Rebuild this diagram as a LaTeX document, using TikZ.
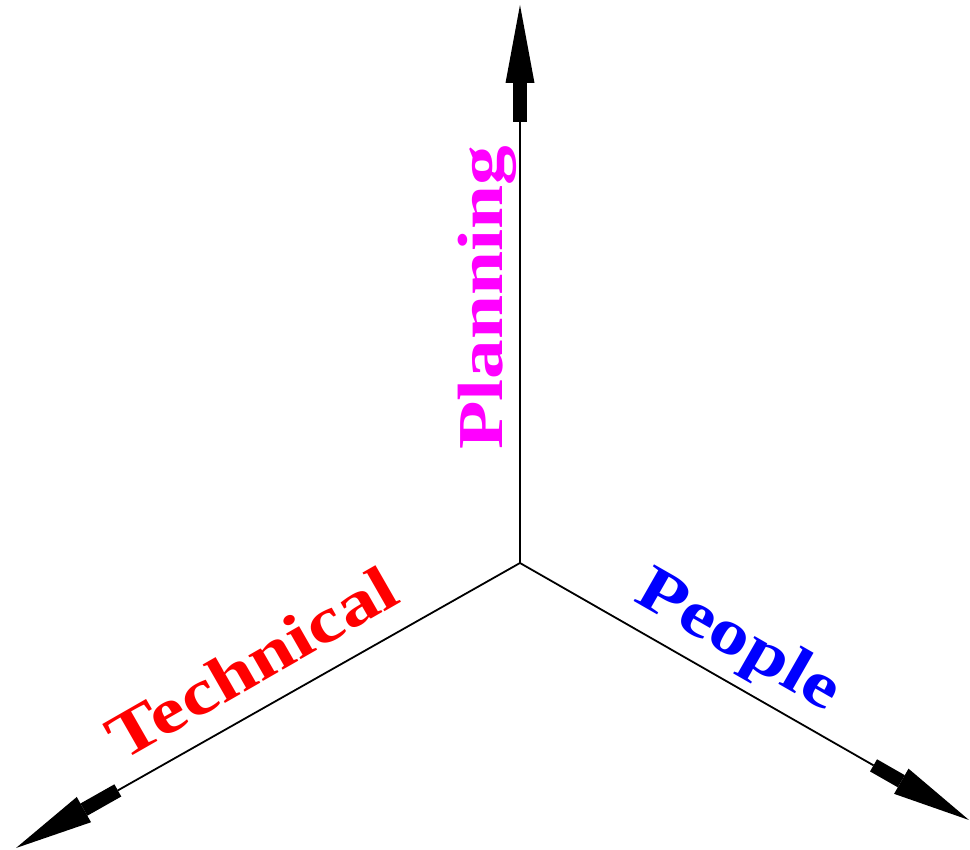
\documentclass[tikz,border=0pt]{standalone}
\usepackage{fontspec}
\setmainfont{Liberation Serif}
\usetikzlibrary{arrows.meta,calc}
\definecolor{planMag}{RGB}{255,0,255}
\definecolor{techRed}{RGB}{255,0,0}
\definecolor{peopBlue}{RGB}{0,0,255}
\tikzset{
  axisline/.style={line width=1.8pt},
  axishead/.style={line width=14pt,-{Triangle[length=78pt,width=29pt,line width=0pt]}},
  axislabel/.style={font=\bfseries\fontsize{64}{64}\selectfont,inner sep=0pt,anchor=base west,xscale=1.24},
}
\begin{document}
\begin{tikzpicture}[x=1pt,y=-1pt]
\useasboundingbox (0,0) rectangle (970,850);
% Axes (origin and tips)
\coordinate (O) at (520,563);
\coordinate (planTip) at (520,5);
\coordinate (techTip) at (16,848);
\coordinate (peopTip) at (969,820);
\coordinate (planBase) at ($(planTip)!117pt!(O)$);
\coordinate (techBase) at ($(techTip)!117pt!(O)$);
\coordinate (peopBase) at ($(peopTip)!110pt!(O)$);

\draw[axisline] (O) -- (planBase);
\draw[axisline] (O) -- (techBase);
\draw[axisline] (O) -- (peopBase);
\draw[axishead] (planBase) -- (planTip);
\draw[axishead] (techBase) -- (techTip);
\draw[axishead] (peopBase) -- (peopTip);

% Labels
\node[rotate=90,axislabel,planMag] (plan) at (502,450) {Planning};
\node[rotate=29.8,axislabel,techRed] (tech) at (122,762) {Technical};
\node[rotate=-29.8,axislabel,peopBlue] (peop) at (632,600) {People};
\end{tikzpicture}
\end{document}
